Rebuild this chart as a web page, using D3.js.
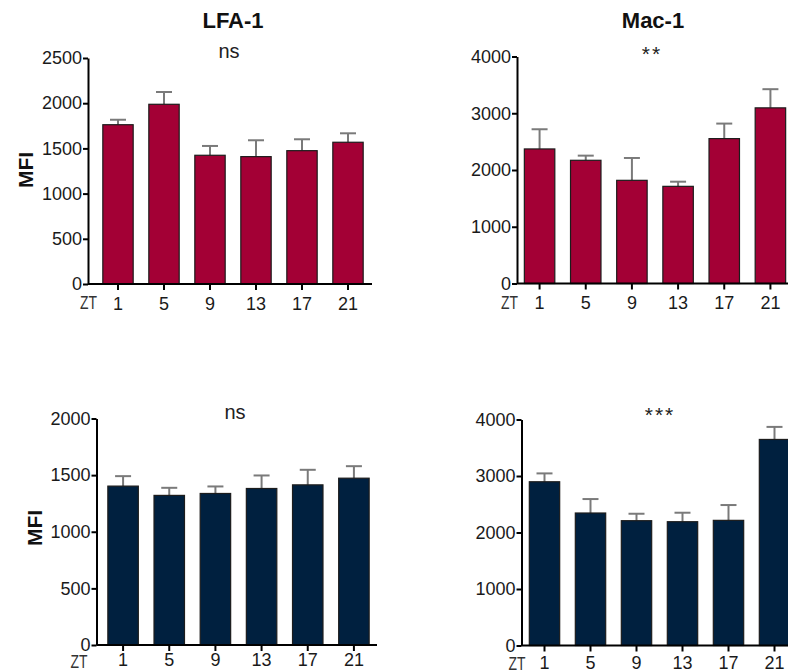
<!DOCTYPE html>
<html>
<head>
<meta charset="utf-8">
<script src="https://cdn.jsdelivr.net/npm/d3@7"></script>
<style>
  body { margin: 0; background: #fff; }
  text { font-family: "Liberation Sans", Arial, sans-serif; }
</style>
</head>
<body>
<svg id="chart" width="788" height="672"></svg>
<script>
// ZT time points (x categories)
const ztLabels = ['1', '5', '9', '13', '17', '21'];

// mean MFI and SEM (upper whisker only)
const lfaTopMean = [1762, 1988, 1424, 1409, 1475, 1568];
const lfaTopErr  = [55, 136, 103, 181, 126, 99];
const macTopMean = [2371, 2171, 1818, 1712, 2553, 3095];
const macTopErr  = [347, 82, 394, 82, 265, 329];
const lfaBotMean = [1403, 1321, 1338, 1382, 1414, 1473];
const lfaBotErr  = [88, 67, 62, 115, 133, 106];
const macBotMean = [2898, 2345, 2209, 2191, 2215, 3647];
const macBotErr  = [148, 247, 123, 159, 271, 222];

const yTicksLfaTop = [0, 500, 1000, 1500, 2000, 2500];
const yTicksMac    = [0, 1000, 2000, 3000, 4000];
const yTicksLfaBot = [0, 500, 1000, 1500, 2000];

const RED = '#a30035';
const NAVY = '#00203f';

const panels = [
  { mean: lfaTopMean, err: lfaTopErr, ticks: yTicksLfaTop, max: 2500, color: RED,
    axisX: 88, y0: 284, yTop: 58, band: [95, 371], axisEnd: 372, labGap: 7, ztY: 309,
    title: 'LFA-1', titleX: 233, sig: 'ns', sigX: 229, sigY: 58, ylabel: true, ylabX: 33, ylabY: 170, ztDx: 9 },
  { mean: macTopMean, err: macTopErr, ticks: yTicksMac, max: 4000, color: RED,
    axisX: 517, y0: 283.5, yTop: 56.5, band: [516.5, 793.5], axisEnd: 788, labGap: 7, ztY: 309,
    title: 'Mac-1', titleX: 653, sig: '**', sigX: 652, sigY: 61, ylabel: false, ztDx: 1 },
  { mean: lfaBotMean, err: lfaBotErr, ticks: yTicksLfaBot, max: 2000, color: NAVY,
    axisX: 96.5, y0: 645, yTop: 418.5, band: [100, 377], axisEnd: 377, labGap: 2, ztY: 668,
    title: null, sig: 'ns', sigX: 235, sigY: 419, ylabel: true, ylabX: 42, ylabY: 528, ztDx: -9 },
  { mean: macBotMean, err: macBotErr, ticks: yTicksMac, max: 4000, color: NAVY,
    axisX: 521.5, y0: 645.5, yTop: 419.5, band: [521.5, 797.5], axisEnd: 788, labGap: 5, ztY: 670,
    title: null, sig: '***', sigX: 660, sigY: 422, ylabel: false, ztDx: 4 }
];

const svg = d3.select('#chart');

panels.forEach(p => {
  const g = svg.append('g');

  const x = d3.scaleBand()
    .domain(ztLabels)
    .range(p.band)
    .paddingInner(0.34)
    .paddingOuter(0.17);

  const y = d3.scaleLinear()
    .domain([0, p.max])
    .range([p.y0, p.yTop]);

  const bars = ztLabels.map((k, i) => ({ k, m: p.mean[i], e: p.err[i] }));

  // error whiskers (drawn first so bar covers the lower half)
  g.selectAll('.whisker')
    .data(bars)
    .join('line')
    .attr('class', 'whisker')
    .attr('x1', d => x(d.k) + x.bandwidth() / 2)
    .attr('x2', d => x(d.k) + x.bandwidth() / 2)
    .attr('y1', d => y(d.m))
    .attr('y2', d => y(d.m + d.e))
    .attr('stroke', '#7a7a7a')
    .attr('stroke-width', 2);

  g.selectAll('.cap')
    .data(bars)
    .join('line')
    .attr('class', 'cap')
    .attr('x1', d => x(d.k) + x.bandwidth() / 2 - 8)
    .attr('x2', d => x(d.k) + x.bandwidth() / 2 + 8)
    .attr('y1', d => y(d.m + d.e))
    .attr('y2', d => y(d.m + d.e))
    .attr('stroke', '#7a7a7a')
    .attr('stroke-width', 2);

  g.selectAll('.bar')
    .data(bars)
    .join('rect')
    .attr('class', 'bar')
    .attr('x', d => x(d.k))
    .attr('width', x.bandwidth())
    .attr('y', d => y(d.m))
    .attr('height', d => y(0) - y(d.m))
    .attr('fill', p.color)
    .attr('stroke', '#1c1c1c')
    .attr('stroke-width', 1.2);

  // y axis
  const yAxisG = g.append('g')
    .attr('transform', `translate(${p.axisX},0)`)
    .call(d3.axisLeft(y).tickValues(p.ticks).tickFormat(d3.format('d'))
      .tickSize(5).tickPadding(1).tickSizeOuter(0));
  yAxisG.select('.domain').attr('stroke', '#000').attr('stroke-width', 2);
  yAxisG.selectAll('.tick line').attr('stroke', '#000').attr('stroke-width', 2);
  yAxisG.selectAll('text')
    .attr('fill', '#1a1a1a')
    .style('font-size', '18px');

  // x axis
  const xAxisG = g.append('g')
    .attr('transform', `translate(0,${p.y0})`)
    .call(d3.axisBottom(x).tickSize(6).tickPadding(p.labGap).tickSizeOuter(0));
  xAxisG.select('.domain')
    .attr('d', `M${p.axisX},0H${p.axisEnd}`)
    .attr('stroke', '#000')
    .attr('stroke-width', 2);
  xAxisG.selectAll('.tick line').attr('stroke', '#000').attr('stroke-width', 2);
  xAxisG.selectAll('text')
    .attr('fill', '#1a1a1a')
    .style('font-size', '18px');

  // ZT marker
  g.append('text')
    .attr('x', p.axisX + p.ztDx)
    .attr('y', p.ztY)
    .attr('text-anchor', 'end')
    .attr('textLength', 17)
    .attr('lengthAdjust', 'spacingAndGlyphs')
    .attr('fill', '#333')
    .style('font-family', '"Liberation Sans Narrow", "Liberation Sans", sans-serif')
    .style('font-size', '18px')
    .style('font-weight', 300)
    .text('ZT');

  if (p.title) {
    g.append('text')
      .attr('x', p.titleX)
      .attr('y', 28)
      .attr('text-anchor', 'middle')
      .style('font-size', '22px')
      .style('font-weight', 'bold')
      .attr('fill', '#111')
      .text(p.title);
  }

  g.append('text')
    .attr('x', p.sigX)
    .attr('y', p.sigY)
    .attr('text-anchor', 'middle')
    .style('font-size', p.sig === 'ns' ? '20px' : '21px')
    .style('letter-spacing', p.sig === 'ns' ? '0px' : '2px')
    .attr('fill', '#222')
    .text(p.sig);

  if (p.ylabel) {
    g.append('text')
      .attr('transform', `translate(${p.ylabX},${p.ylabY}) rotate(-90)`)
      .attr('text-anchor', 'middle')
      .style('font-size', '21px')
      .style('font-weight', 'bold')
      .attr('fill', '#111')
      .text('MFI');
  }
});
</script>
</body>
</html>
